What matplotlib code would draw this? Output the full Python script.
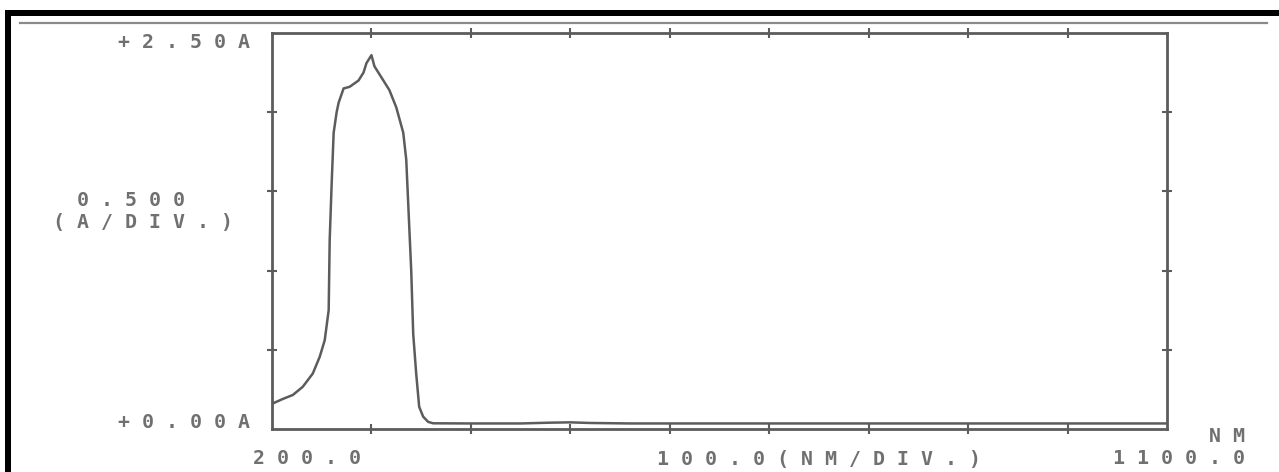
import matplotlib
matplotlib.use("Agg")
import matplotlib.pyplot as plt
from matplotlib.patches import Rectangle
from matplotlib.lines import Line2D

# absorbance spectrum
wavelength = [201, 211, 221, 231, 241, 248, 253, 257, 258, 260, 262, 265, 267, 272, 278,
              287, 292, 295, 300, 303, 308, 312, 318, 325, 332, 335, 337, 340, 342, 345,
              348, 352, 357, 362, 400, 450, 480, 500, 520, 560, 600, 700, 800, 900,
              1000, 1100]
absorb = [0.162, 0.19, 0.215, 0.267, 0.35, 0.456, 0.56, 0.75, 1.19, 1.55, 1.87, 2.0, 2.06,
          2.15, 2.16, 2.20, 2.25, 2.31, 2.36, 2.29, 2.24, 2.20, 2.14, 2.03, 1.87, 1.70,
          1.42, 1.00, 0.60, 0.35, 0.14, 0.078, 0.045, 0.036, 0.035, 0.035, 0.04, 0.042,
          0.038, 0.035, 0.035, 0.035, 0.035, 0.035, 0.035, 0.035]

x_ticks = [300, 400, 500, 600, 700, 800, 900, 1000]
y_ticks = [0.5, 1.0, 1.5, 2.0]

W, H = 1279, 472
ink = "#5c5c5c"
txt = "#707070"

fig = plt.figure(figsize=(W / 100, H / 100), dpi=100)
fig.patch.set_facecolor("white")

def fx(px):
    return px / W

def fy(py):
    return 1 - py / H

ax = fig.add_axes([fx(272), fy(429), (1167 - 272) / W, (429 - 33) / H])
ax.plot(wavelength, absorb, color=ink, lw=1.8)
ax.set_xlim(200, 1100)
ax.set_ylim(0, 2.5)
ax.set_xticks(x_ticks)
ax.set_yticks(y_ticks)
ax.tick_params(direction="inout", length=7, width=1.5, color=ink,
               top=True, right=True, labelbottom=False, labelleft=False)
for s in ax.spines.values():
    s.set_color(ink)
    s.set_linewidth(2)

def spaced(s):
    return " ".join(s)

kw = dict(family="DejaVu Sans Mono", fontsize=14.3, color=txt, va="center",
          fontweight="bold")
fig.text(fx(250), fy(43), spaced("+2.50A"), ha="right", **kw)
fig.text(fx(53), fy(200), spaced(" 0.500"), ha="left", **kw)
fig.text(fx(53), fy(222), spaced("(A/DIV.)"), ha="left", **kw)
fig.text(fx(250), fy(423), spaced("+0.00A"), ha="right", **kw)
fig.text(fx(253), fy(459), spaced("200.0"), ha="left", **kw)
fig.text(fx(657), fy(459), spaced("100.0(NM/DIV.)"), ha="left", **kw)
fig.text(fx(1245), fy(458), spaced("1100.0"), ha="right", **kw)
fig.text(fx(1245), fy(437), spaced("NM"), ha="right", **kw)

# scan frame
fig.add_artist(Rectangle((fx(5), 0), fx(6), fy(10), transform=fig.transFigure,
                         color="black", lw=0))
fig.add_artist(Rectangle((fx(5), fy(16)), 1, 6 / H, transform=fig.transFigure,
                         color="black", lw=0))
fig.add_artist(Line2D([fx(20), fx(1267)], [fy(22.5), fy(22.5)],
                      transform=fig.transFigure, color="#8a8a8a", lw=1.6))

fig.savefig("out.png", dpi=100)
